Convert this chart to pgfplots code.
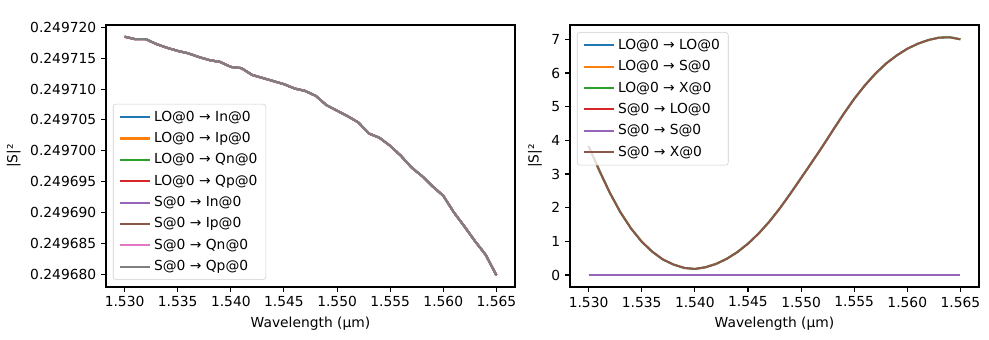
\documentclass[border=0pt]{standalone}
\usepackage{fontspec}
\setmainfont{DejaVu Sans}
\usepackage{pgfplots}
\usepackage{pgfplotstable}
\pgfplotsset{compat=1.18}
\definecolor{C0}{HTML}{1F77B4}
\definecolor{C1}{HTML}{FF7F0E}
\definecolor{C2}{HTML}{2CA02C}
\definecolor{C3}{HTML}{D62728}
\definecolor{C4}{HTML}{9467BD}
\definecolor{C5}{HTML}{8C564B}
\definecolor{C6}{HTML}{E377C2}
\definecolor{C7}{HTML}{7F7F7F}

\pgfplotstableread{
w s
1.530 0.2497185
1.531 0.2497181
1.532 0.2497181
1.533 0.2497173
1.534 0.2497167
1.535 0.2497162
1.536 0.2497158
1.537 0.2497152
1.538 0.2497147
1.539 0.2497144
1.540 0.2497136
1.541 0.2497134
1.542 0.2497123
1.543 0.2497118
1.544 0.2497113
1.545 0.2497108
1.546 0.2497101
1.547 0.2497097
1.548 0.2497089
1.549 0.2497074
1.550 0.2497065
1.551 0.2497056
1.552 0.2497046
1.553 0.2497028
1.554 0.2497021
1.555 0.2497008
1.556 0.2496992
1.557 0.2496973
1.558 0.2496959
1.559 0.2496942
1.560 0.2496927
1.561 0.2496900
1.562 0.2496877
1.563 0.2496853
1.564 0.2496831
1.565 0.2496798
}\leftdata

\pgfplotstableread{
w s
1.530 3.83e-5
1.531 3.11e-5
1.532 2.44e-5
1.533 1.86e-5
1.534 1.38e-5
1.535 0.99e-5
1.536 0.69e-5
1.537 0.46e-5
1.538 0.31e-5
1.539 0.21e-5
1.540 0.18e-5
1.541 0.23e-5
1.542 0.33e-5
1.543 0.48e-5
1.544 0.68e-5
1.545 0.93e-5
1.546 1.23e-5
1.547 1.58e-5
1.548 1.98e-5
1.549 2.42e-5
1.550 2.88e-5
1.551 3.34e-5
1.552 3.81e-5
1.553 4.30e-5
1.554 4.78e-5
1.555 5.23e-5
1.556 5.63e-5
1.557 5.98e-5
1.558 6.28e-5
1.559 6.52e-5
1.560 6.72e-5
1.561 6.87e-5
1.562 6.98e-5
1.563 7.05e-5
1.564 7.06e-5
1.565 7.00e-5
}\xdata

\pgfplotstableread{
w s
1.530 0
1.565 0
}\zerodata

\pgfplotsset{
  mpl/.style={
    scale only axis, width=4.09in, height=2.62in,
    /pgf/number format/assume math mode=true,
    axis line style={line width=0.8pt},
    tick align=outside, major tick length=3.5pt,
    every tick/.style={black, line width=0.8pt},
    xtick pos=bottom, ytick pos=left,
    xmin=1.52825, xmax=1.56675,
    xtick={1.530,1.535,1.540,1.545,1.550,1.555,1.560,1.565},
    xticklabel style={/pgf/number format/.cd, fixed, fixed zerofill, precision=3},
    scaled x ticks=false, scaled y ticks=false,
    xlabel={Wavelength (µm)},
    ylabel={|S|²},
    legend cell align=left,
    legend style={draw=black!20, rounded corners=2pt, fill=white, fill opacity=0.8, text opacity=1,
      font=\fontsize{10}{12}\selectfont, row sep=2.5pt, inner xsep=4pt, inner ysep=3pt},
    legend image code/.code={\draw[#1] (0pt,0pt) -- (22pt,0pt);},
    every axis plot/.append style={line width=1.5pt},
  }
}

\begin{document}
\begin{tikzpicture}
\path[use as bounding box] (0,0) rectangle (9.89in,3.4in);
\begin{axis}[mpl, at={(1.06in,0.53in)}, anchor=south west,
  ymin=0.2496779, ymax=0.2497204,
  ytick={0.24968,0.249685,0.24969,0.249695,0.2497,0.249705,0.24971,0.249715,0.24972},
  yticklabel style={/pgf/number format/.cd, fixed, fixed zerofill, precision=6},
  legend style={at={(0.017,0.027)}, anchor=south west},
]
\addplot[C0] table[x=w,y=s] {\leftdata}; \addlegendentry{LO@0 → In@0}
\addplot[C1] table[x=w,y=s] {\leftdata}; \addlegendentry{LO@0 → Ip@0}
\addplot[C2] table[x=w,y=s] {\leftdata}; \addlegendentry{LO@0 → Qn@0}
\addplot[C3] table[x=w,y=s] {\leftdata}; \addlegendentry{LO@0 → Qp@0}
\addplot[C4] table[x=w,y=s] {\leftdata}; \addlegendentry{S@0 → In@0}
\addplot[C5] table[x=w,y=s] {\leftdata}; \addlegendentry{S@0 → Ip@0}
\addplot[C6] table[x=w,y=s] {\leftdata}; \addlegendentry{S@0 → Qn@0}
\addplot[C7] table[x=w,y=s] {\leftdata}; \addlegendentry{S@0 → Qp@0}
\end{axis}
\begin{axis}[mpl, at={(5.70in,0.53in)}, anchor=south west,
  ymin=-0.356, ymax=7.425,
  ytick={0,1,2,3,4,5,6,7},
  y filter/.expression={y*100000},
  legend style={at={(0.017,0.973)}, anchor=north west},
]
\addplot[C0] table[x=w,y=s] {\zerodata}; \addlegendentry{LO@0 → LO@0}
\addplot[C1] table[x=w,y=s] {\zerodata}; \addlegendentry{LO@0 → S@0}
\addplot[C2] table[x=w,y=s] {\xdata}; \addlegendentry{LO@0 → X@0}
\addplot[C3] table[x=w,y=s] {\zerodata}; \addlegendentry{S@0 → LO@0}
\addplot[C4] table[x=w,y=s] {\zerodata}; \addlegendentry{S@0 → S@0}
\addplot[C5] table[x=w,y=s] {\xdata}; \addlegendentry{S@0 → X@0}
\node[anchor=south west, inner sep=0pt, yshift=3pt] at (rel axis cs:0,1) {1e−5};
\end{axis}
\end{tikzpicture}
\end{document}
